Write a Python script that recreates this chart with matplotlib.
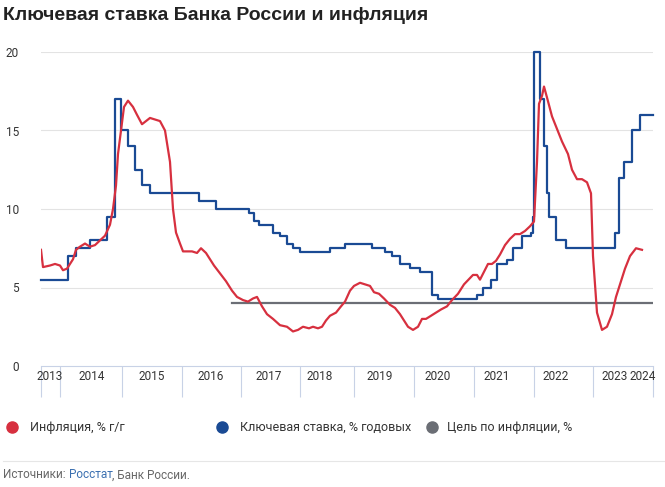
import numpy as np
import matplotlib.pyplot as plt
from matplotlib.lines import Line2D

# x positions are observation columns along the chart (0 = start of 2013)
infl_pos = [0, 2, 9, 14, 19, 22, 26, 29, 32, 35, 39, 44, 49, 54, 59, 64, 69, 72, 75, 77, 80, 83, 87,
            92, 96, 101, 105, 109, 114, 119, 124, 129, 132, 135, 139, 142, 147, 151, 156, 160, 165,
            169, 173, 179, 185, 191, 196, 202, 207, 212, 216, 221, 226, 232, 239, 246, 252, 257, 262,
            268, 272, 277, 281, 285, 289, 295, 300, 304, 309, 313, 319, 324, 329, 333, 338, 343, 349,
            354, 359, 363, 367, 372, 377, 381, 385, 390, 395, 400, 406, 411, 417, 423, 429, 432, 436,
            439, 443, 447, 451, 455, 459, 464, 469, 474, 479, 484, 489, 493, 496, 498, 501, 503, 506,
            511, 516, 521, 527, 531, 536, 541, 546, 550, 552, 556, 561, 566, 571, 575, 579, 584, 589,
            595, 601]
infl_val = [7.4, 6.3, 6.4, 6.5, 6.4, 6.1, 6.2, 6.5, 6.8, 7.4, 7.6, 7.8, 7.6, 7.7, 8.0, 8.3, 9.0, 10.0,
            11.5, 13.5, 15.0, 16.5, 16.9, 16.5, 16.0, 15.4, 15.6, 15.8, 15.7, 15.6, 15.0, 13.0, 10.0,
            8.5, 7.8, 7.3, 7.3, 7.3, 7.2, 7.5, 7.2, 6.8, 6.4, 5.9, 5.4, 4.8, 4.4, 4.2, 4.1, 4.3, 4.4,
            3.8, 3.3, 3.0, 2.6, 2.5, 2.2, 2.3, 2.5, 2.4, 2.5, 2.4, 2.5, 2.9, 3.2, 3.4, 3.8, 4.1, 4.8,
            5.1, 5.3, 5.2, 5.1, 4.7, 4.6, 4.3, 3.9, 3.7, 3.3, 2.9, 2.5, 2.3, 2.5, 3.0, 3.0, 3.2, 3.4,
            3.6, 3.8, 4.2, 4.6, 5.2, 5.6, 5.8, 5.8, 5.5, 6.0, 6.5, 6.5, 6.7, 7.1, 7.7, 8.1, 8.4, 8.4,
            8.6, 8.9, 9.2, 13.0, 16.7, 17.2, 17.8, 17.1, 15.9, 15.1, 14.3, 13.5, 12.5, 11.9, 11.9,
            11.7, 11.0, 7.0, 3.4, 2.3, 2.5, 3.3, 4.4, 5.2, 6.2, 7.0, 7.5, 7.4]

# key rate: step start positions and levels
rate_pos = [0, 27, 35, 49, 66, 74, 80, 87, 94, 101, 109, 158, 175, 208, 213, 218, 232, 239, 246,
            252, 259, 289, 304, 331, 344, 351, 359, 369, 379, 391, 397, 436, 442, 450, 456, 466,
            472, 481, 490, 492, 493, 499, 503, 506, 508, 515, 525, 574, 578, 583, 591, 599, 612]
rate_val = [5.5, 7.0, 7.5, 8.0, 9.5, 17.0, 15.0, 14.0, 12.5, 11.5, 11.0, 10.5, 10.0, 9.75, 9.25,
            9.0, 8.5, 8.25, 7.75, 7.5, 7.25, 7.5, 7.75, 7.5, 7.25, 7.0, 6.5, 6.25, 6.0, 4.5, 4.25,
            4.5, 5.0, 5.5, 6.5, 6.75, 7.5, 8.25, 8.5, 9.5, 20.0, 17.0, 14.0, 11.0, 9.5, 8.0, 7.5,
            8.5, 12.0, 13.0, 15.0, 16.0, 16.0]

target_start, target_end, target_val = 191, 612, 4.0

year_labels = ['2013', '2014', '2015', '2016', '2017', '2018', '2019', '2020', '2021', '2022', '2023', '2024']
year_label_pos = [9, 51, 111, 170, 228, 279, 339, 397, 456, 515, 574, 602]
year_sep_pos = [0, 19, 81, 141, 200, 259, 313, 373, 433, 493, 552, 612]

RED = '#d7303f'
BLUE = '#1a4a94'
GREY = '#6b6e75'
TXT = '#333333'

plt.rcParams['font.family'] = 'Roboto'
fig = plt.figure(figsize=(6.65, 4.87), dpi=100)
ax = fig.add_axes([41 / 665, 121 / 487, 612 / 665, 314 / 487])

ax.set_xlim(0, 612)
ax.set_ylim(0, 20)
ax.set_yticks([0, 5, 10, 15, 20])
ax.set_yticklabels(['0', '5', '10', '15', '20'], fontsize=8.5, color=TXT)
ax.tick_params(axis='y', length=0, pad=16)
for s in ['top', 'right', 'left']:
    ax.spines[s].set_visible(False)
ax.spines['bottom'].set_color('#c8d2e6')
for v in [5, 10, 15, 20]:
    ax.axhline(v, color='#e3e3e3', lw=0.8, zorder=0)

ax.set_xticks(year_sep_pos)
ax.set_xticklabels([''] * len(year_sep_pos))
ax.tick_params(axis='x', length=22, color='#c8d2e6', width=0.8)
for lbl, p in zip(year_labels, year_label_pos):
    ax.text(p, -0.7, lbl, ha='center', va='center', fontsize=8.5, color=TXT)

ax.plot([target_start, target_end], [target_val, target_val], color=GREY, lw=1.6, zorder=2)
ax.step(rate_pos, rate_val, where='post', color=BLUE, lw=1.6, zorder=3, clip_on=False)
ax.plot(infl_pos, infl_val, color=RED, lw=1.6, zorder=4)

fig.text(3 / 665, 1 - 15 / 487, 'Ключевая ставка Банка России и инфляция', fontsize=14,
         fontweight='bold', family='Liberation Sans', color='#222222', va='center')

leg = [(12, 30, RED, 'Инфляция, % г/г'), (222, 240, BLUE, 'Ключевая ставка, % годовых'),
       (432, 447, GREY, 'Цель по инфляции, %')]
for mx, tx, c, t in leg:
    fig.add_artist(Line2D([mx / 665], [1 - 427 / 487], marker='o', ms=8, color=c, lw=0))
    fig.text(tx / 665, 1 - 427 / 487, t, fontsize=9, color=TXT, va='center')

fig.add_artist(Line2D([3 / 665, 1], [1 - 461 / 487] * 2, color='#e6e6e6', lw=0.8))

# source line: pieces placed one after another
renderer = fig.canvas.get_renderer()
x = 3 / 665
for piece, col in [('Источники: ', '#666666'), ('Росстат', '#3a6fb0'), (', Банк России.', '#666666')]:
    t = fig.text(x, 1 - 475 / 487, piece, fontsize=8.5, color=col, va='center')
    bb = t.get_window_extent(renderer)
    x = bb.x1 / fig.bbox.width

fig.savefig('out.png', dpi=100)
